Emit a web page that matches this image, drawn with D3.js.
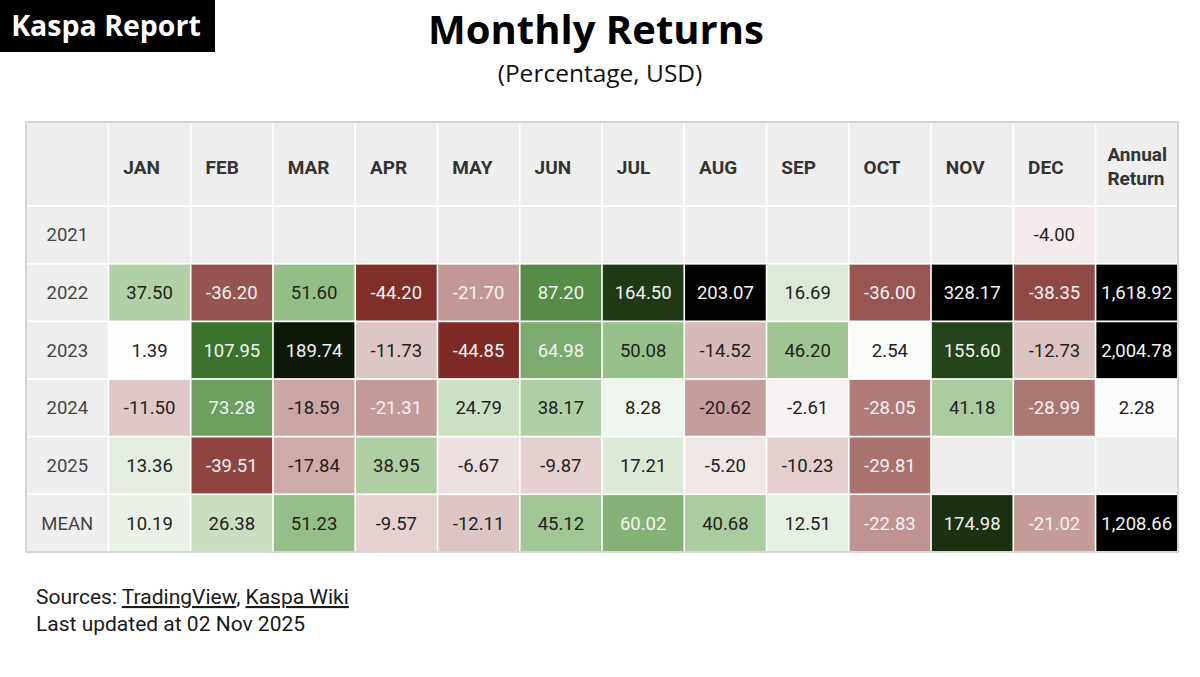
<!DOCTYPE html>
<html>
<head>
<meta charset="utf-8">
<script src="https://cdn.jsdelivr.net/npm/d3@7"></script>
<style>
  body { margin: 0; background: #fff; }
  svg { display: block; }
</style>
</head>
<body>
<script>
var months = ['JAN', 'FEB', 'MAR', 'APR', 'MAY', 'JUN', 'JUL', 'AUG', 'SEP', 'OCT', 'NOV', 'DEC'];
var rowLabels = ['2021', '2022', '2023', '2024', '2025', 'MEAN'];

var r2021 = [null, null, null, null, null, null, null, null, null, null, null, -4.00];
var r2022 = [37.50, -36.20, 51.60, -44.20, -21.70, 87.20, 164.50, 203.07, 16.69, -36.00, 328.17, -38.35];
var r2023 = [1.39, 107.95, 189.74, -11.73, -44.85, 64.98, 50.08, -14.52, 46.20, 2.54, 155.60, -12.73];
var r2024 = [-11.50, 73.28, -18.59, -21.31, 24.79, 38.17, 8.28, -20.62, -2.61, -28.05, 41.18, -28.99];
var r2025 = [13.36, -39.51, -17.84, 38.95, -6.67, -9.87, 17.21, -5.20, -10.23, -29.81, null, null];
var rMean = [10.19, 26.38, 51.23, -9.57, -12.11, 45.12, 60.02, 40.68, 12.51, -22.83, 174.98, -21.02];

var annual = [null, 1618.92, 2004.78, 2.28, null, 1208.66];

var monthly = [r2021, r2022, r2023, r2024, r2025, rMean];

var W = 1200, H = 677;
var left = 27, right = 1177, headTop = 123, headBottom = 207, bottom = 551;
var emptyFill = '#eeeeee';

var columns = ['label'].concat(months, ['Annual']);

var x = d3.scaleBand().domain(columns).range([left, right]).paddingInner(0.02);
var y = d3.scaleBand().domain(rowLabels).range([headBottom, bottom]).paddingInner(0.03);

var color = d3.scaleLinear()
  .domain([-45, 0, 50, 100, 175, 205])
  .range(['#7e2a26', '#ffffff', '#98c08a', '#3f7a2f', '#1c3012', '#000000'])
  .clamp(true);

function textColor(v) {
  if (v <= -21 || v >= 55) return '#f2f2f2';
  return '#222222';
}

// plain hyphen for negatives, like the source table
var fmt = d3.formatLocale({
  decimal: '.', thousands: ',', grouping: [3], currency: ['$', ''], minus: '-'
}).format(',.2f');

var svg = d3.select('body').append('svg')
  .attr('width', W)
  .attr('height', H);

// brand box
svg.append('rect')
  .attr('x', 0).attr('y', 0)
  .attr('width', 215).attr('height', 52)
  .attr('fill', '#000');
svg.append('text')
  .attr('x', 106).attr('y', 36)
  .attr('text-anchor', 'middle')
  .attr('font-family', 'Open Sans, sans-serif')
  .attr('font-weight', 700)
  .attr('font-size', '28.5px')
  .attr('fill', '#fff')
  .text('Kaspa Report');

// titles
svg.append('text')
  .attr('x', 596).attr('y', 44)
  .attr('text-anchor', 'middle')
  .attr('font-family', 'Open Sans, sans-serif')
  .attr('font-weight', 700)
  .attr('font-size', '40px')
  .attr('fill', '#000')
  .text('Monthly Returns');
svg.append('text')
  .attr('x', 600).attr('y', 82)
  .attr('text-anchor', 'middle')
  .attr('font-family', 'Open Sans, sans-serif')
  .attr('font-size', '24.5px')
  .attr('fill', '#111')
  .text('(Percentage, USD)');

// table frame
svg.append('rect')
  .attr('x', left - 1).attr('y', headTop - 1)
  .attr('width', right - left + 2).attr('height', bottom - headTop + 2)
  .attr('fill', '#fff')
  .attr('stroke', '#c8c8c8')
  .attr('stroke-width', 1.5);

// header row
var head = svg.append('g');
head.selectAll('rect')
  .data(columns)
  .enter()
  .append('rect')
    .attr('x', d => x(d))
    .attr('y', headTop)
    .attr('width', x.bandwidth())
    .attr('height', headBottom - headTop - 2)
    .attr('fill', emptyFill);

head.selectAll('text')
  .data(columns.slice(1))
  .enter()
  .append('text')
    .attr('x', d => x(d) + (d === 'Annual' ? 11 : 14))
    .attr('y', d => d === 'Annual' ? 161 : 174)
    .attr('font-family', 'Roboto, sans-serif')
    .attr('font-weight', 700)
    .attr('font-size', '19px')
    .attr('fill', '#333')
    .each(function(d) {
      var t = d3.select(this);
      if (d === 'Annual') {
        t.append('tspan').attr('x', x(d) + 11).text('Annual');
        t.append('tspan').attr('x', x(d) + 11).attr('dy', 24).text('Return');
      } else {
        t.text(d);
      }
    });

// body cells
var cells = [];
rowLabels.forEach(function(r, i) {
  cells.push({ row: r, col: 'label', value: null, label: r });
  months.forEach(function(m, j) {
    cells.push({ row: r, col: m, value: monthly[i][j] });
  });
  cells.push({ row: r, col: 'Annual', value: annual[i] });
});

var body = svg.append('g');
body.selectAll('rect')
  .data(cells)
  .enter()
  .append('rect')
    .attr('x', d => x(d.col))
    .attr('y', d => y(d.row))
    .attr('width', x.bandwidth())
    .attr('height', y.bandwidth())
    .attr('fill', d => d.value == null ? emptyFill : color(d.value));

body.selectAll('text')
  .data(cells.filter(d => d.value != null || d.label))
  .enter()
  .append('text')
    .attr('x', d => x(d.col) + x.bandwidth() / 2)
    .attr('y', d => y(d.row) + y.bandwidth() / 2 + 6.5)
    .attr('text-anchor', 'middle')
    .attr('font-family', 'Roboto, sans-serif')
    .attr('font-size', '18.5px')
    .attr('fill', d => d.label ? '#444' : textColor(d.value))
    .text(d => d.label ? d.label : fmt(d.value));

// footer
var foot = svg.append('text')
  .attr('x', 36).attr('y', 604)
  .attr('font-family', 'Roboto, sans-serif')
  .attr('font-size', '21px')
  .attr('fill', '#1a1a1a');
foot.append('tspan').text('Sources: ');
foot.append('tspan').attr('text-decoration', 'underline').text('TradingView');
foot.append('tspan').text(', ');
foot.append('tspan').attr('text-decoration', 'underline').text('Kaspa Wiki');

svg.append('text')
  .attr('x', 36).attr('y', 631)
  .attr('font-family', 'Roboto, sans-serif')
  .attr('font-size', '21px')
  .attr('fill', '#1a1a1a')
  .text('Last updated at 02 Nov 2025');
</script>
</body>
</html>
